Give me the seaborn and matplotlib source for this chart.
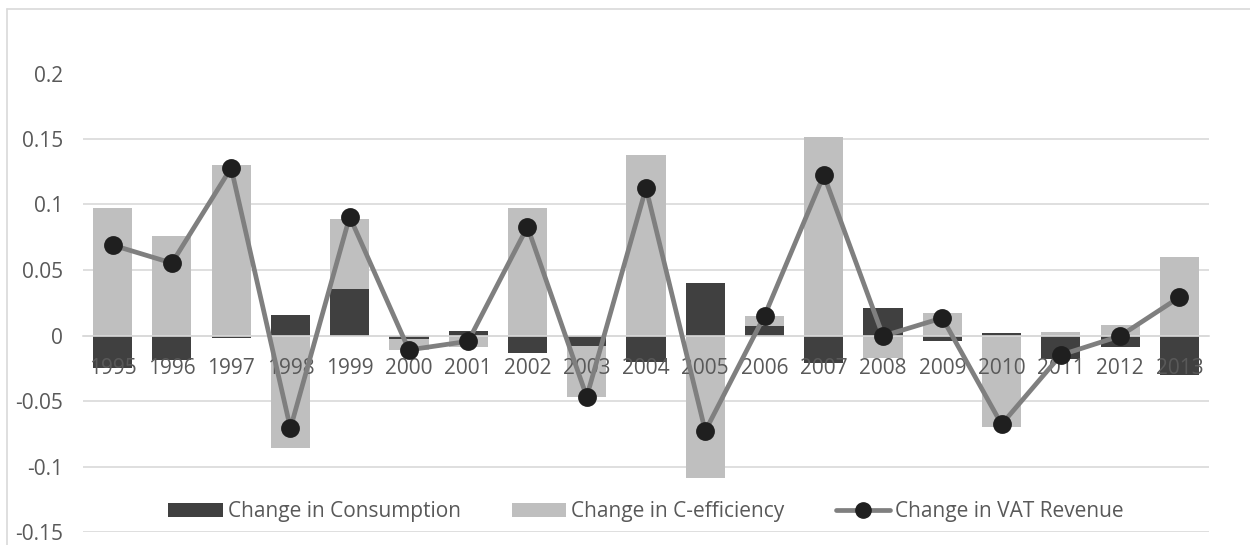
import matplotlib
matplotlib.use("Agg")
import matplotlib.pyplot as plt
from matplotlib.patches import Patch
from matplotlib.lines import Line2D
import numpy as np
import pandas as pd
import seaborn as sns

# Annual changes, 1995-2013
years = [str(y) for y in range(1995, 2014)]
consumption = [-0.025, -0.019, -0.002, 0.016, 0.0355, -0.0024, 0.0037, -0.0136, -0.008,
               -0.020, 0.040, 0.0073, -0.021, 0.0207, -0.0042, 0.0019, -0.018, -0.0088, -0.030]
c_efficiency = [0.097, 0.0757, 0.130, -0.086, 0.0532, -0.0087, -0.0085, 0.0973, -0.0387,
                0.138, -0.109, 0.0076, 0.1515, -0.017, 0.0169, -0.070, 0.0024, 0.008, 0.0602]
vat_revenue = [0.069, 0.0553, 0.128, -0.0708, 0.0907, -0.011, -0.0044, 0.083, -0.0467,
               0.1126, -0.0729, 0.0151, 0.1225, -0.0004, 0.0134, -0.0678, -0.0149, -0.0004, 0.0292]
y_ticks = [-0.15, -0.1, -0.05, 0, 0.05, 0.1, 0.15, 0.2]
series_names = ["Change in Consumption", "Change in C-efficiency", "Change in VAT Revenue"]

DARK = "#404040"
LIGHT = "#bfbfbf"
LINE = "#7f7f7f"
MARK = "#1f1f1f"
GRID = "#d9d9d9"
TEXT = "#595959"

df = pd.DataFrame({"Year": years, "Consumption": consumption,
                   "CEff": c_efficiency, "VAT": vat_revenue})
# Stacked layout: positives stack on positives, negatives on negatives.
cons = np.array(consumption)
ceff = np.array(c_efficiency)
df["CEffTop"] = np.where(np.sign(cons) == np.sign(ceff), cons + ceff, ceff)

sns.set_theme(style="whitegrid")
plt.rcParams["font.family"] = ["Open Sans", "DejaVu Sans"]

fig = plt.figure(figsize=(12.5, 5.45), dpi=100)
ax = fig.add_axes([83 / 1250, 1 - 532 / 545, (1209 - 83) / 1250, (532 - 73.5) / 545])

sns.barplot(data=df, x="Year", y="CEffTop", color=LIGHT, saturation=1, width=0.66,
            errorbar=None, linewidth=0, ax=ax, zorder=1)
sns.barplot(data=df, x="Year", y="Consumption", color=DARK, saturation=1, width=0.66,
            errorbar=None, linewidth=0, ax=ax, zorder=1)
sns.pointplot(data=df, x="Year", y="VAT", color=LINE, markers="o", markersize=11,
              linewidth=3.4, errorbar=None, ax=ax, zorder=3,
              markerfacecolor=MARK, markeredgecolor=MARK)

ax.set_ylim(-0.15, 0.2)
ax.set_yticks(y_ticks)
ax.set_yticklabels([f"{t:g}" for t in y_ticks])
ax.set_xlabel("")
ax.set_ylabel("")
ax.set_facecolor("white")

ax.grid(axis="y", color=GRID, linewidth=1.2)
ax.grid(axis="x", visible=False)
for side in ("left", "right", "top"):
    ax.spines[side].set_visible(False)
ax.spines["bottom"].set_position(("data", 0))
ax.spines["bottom"].set_color(GRID)
ax.spines["bottom"].set_linewidth(1.2)
ax.spines["bottom"].set_zorder(1.5)
ax.xaxis.set_zorder(1.5)

ax.tick_params(axis="x", length=0, pad=16, labelsize=15, labelcolor=TEXT)
ax.tick_params(axis="y", length=0, pad=14.5, labelsize=15, labelcolor=TEXT)

handles = [Patch(facecolor=DARK, edgecolor="none"),
           Patch(facecolor=LIGHT, edgecolor="none"),
           Line2D([], [], color=LINE, linewidth=3.4, marker="o", markersize=11,
                  markerfacecolor=MARK, markeredgecolor=MARK)]
leg = ax.legend(handles, series_names, loc="center", bbox_to_anchor=(0.5, 0.0443),
                ncol=3, frameon=False, fontsize=15, handlelength=2.6, handleheight=0.67,
                handletextpad=0.25, columnspacing=2.45, labelcolor=TEXT)

# Chart frame along the top and left edges
fig.add_artist(Line2D([7 / 1250, 1.0], [1 - 8.5 / 545] * 2, color=GRID, linewidth=1.2,
                      transform=fig.transFigure))
fig.add_artist(Line2D([7 / 1250] * 2, [0.0, 1 - 8.5 / 545], color=GRID, linewidth=1.2,
                      transform=fig.transFigure))

fig.savefig("out.png", dpi=100, facecolor="white")
